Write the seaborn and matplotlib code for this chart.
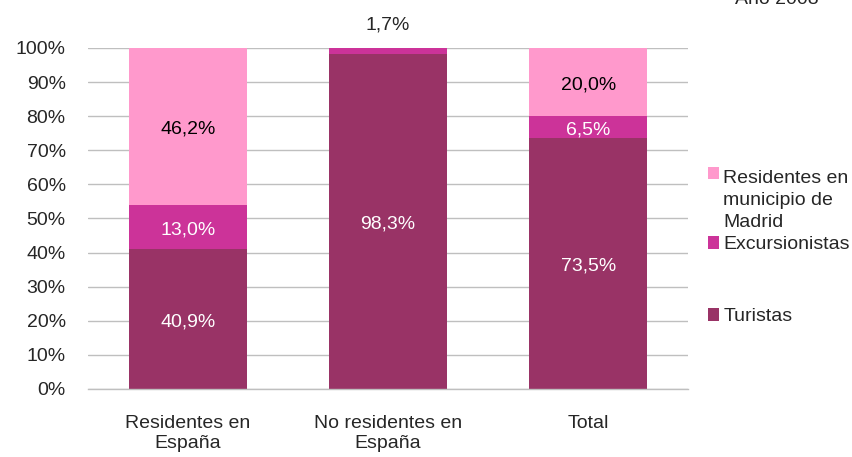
import pandas as pd
import numpy as np
import matplotlib.pyplot as plt
import seaborn as sns

# Data (percentages)
categories = ["Residentes en\nEspaña", "No residentes en\nEspaña", "Total"]
turistas = [40.9, 98.3, 73.5]
excursionistas = [13.0, 1.7, 6.5]
residentes_madrid = [46.2, 0.0, 20.0]

series_names = ["Turistas", "Excursionistas", "Residentes en\nmunicipio de\nMadrid"]
colors = ["#993366", "#CC3399", "#FF99CC"]
text_colors = ["white", "white", "black"]

sns.set_style("white")
plt.rcParams['font.family'] = ['Liberation Sans', 'DejaVu Sans']
FS = 14
plt.rcParams['font.size'] = FS

df = pd.DataFrame({
    "Categoria": categories,
    "Turistas": turistas,
    "Excursionistas": excursionistas,
    "Residentes": residentes_madrid,
})
cols = ["Turistas", "Excursionistas", "Residentes"]
cum = df[cols].cumsum(axis=1)

fig = plt.figure(figsize=(8.53, 4.57), dpi=100)
ax = fig.add_axes([0.103, 0.149, 0.704, 0.746])

# draw stacked bars as layered cumulative bars (top layer first)
for i in reversed(range(len(cols))):
    sns.barplot(x=df["Categoria"], y=cum[cols[i]], color=colors[i], width=0.59,
                saturation=1, ax=ax, label=series_names[i], zorder=2,
                linewidth=0, edgecolor="none")

# segment labels
for j in range(len(categories)):
    bottom = 0
    for i, c in enumerate(cols):
        v = df.loc[j, c]
        txt = f"{v:.1f}%".replace(".", ",")
        if v >= 5:
            ax.annotate(txt, (j, bottom + v / 2), xytext=(0, -2), textcoords="offset points",
                        ha="center", va="center", color=text_colors[i], fontsize=FS, zorder=3)
        elif v > 0:
            ax.annotate(txt, (j, 100), xytext=(0, 16.5),
                        textcoords="offset points", ha="center", va="center", fontsize=FS)
        bottom += v

ax.set_ylim(0, 100)
ax.set_xlim(-0.5, 2.5)
ax.set_yticks(np.arange(0, 101, 10))
ax.set_yticklabels([f"{t}%" for t in range(0, 101, 10)])
ax.yaxis.grid(True, color="#BFBFBF", linewidth=1, zorder=0)
ax.set_axisbelow(True)
ax.set_xlabel("")
ax.set_ylabel("")
for s in ["top", "right", "left"]:
    ax.spines[s].set_visible(False)
ax.spines["bottom"].set_color("#BFBFBF")
ax.spines["bottom"].set_linewidth(1)
ax.tick_params(axis="y", length=0, pad=16)
# category boundary ticks
ax.set_xticks([-0.5, 0.5, 1.5, 2.5], minor=True)
ax.tick_params(axis="x", which="minor", length=6, color="#BFBFBF", width=1)
ax.tick_params(axis="x", which="major", length=0, pad=19)
for lbl in ax.get_xticklabels():
    lbl.set_linespacing(1.2)

# legend: Excel-like spacing (two blocks)
handles, labels = ax.get_legend_handles_labels()
hmap = dict(zip(labels, handles))
kw = dict(frameon=False, handlelength=0.6, handleheight=0.6, handletextpad=0.2,
          borderpad=0, borderaxespad=0, fontsize=FS)
leg1 = ax.legend([hmap[series_names[2]], hmap[series_names[1]]],
                 [series_names[2], series_names[1]], loc="center left",
                 bbox_to_anchor=(1.032, 0.52), labelspacing=0.25, **kw)
t0 = leg1.get_texts()[0]
t0.set_linespacing(1.4)
t0.set_multialignment("left")
# marker aligned with first text line, as in the original
p0 = leg1.get_patches()[0]
p0.set_y(p0.get_y() + 1.4 * FS)
ax.add_artist(leg1)
ax.legend([hmap[series_names[0]]], [series_names[0]], loc="center left",
          bbox_to_anchor=(1.032, 0.211), **kw)

fig.text(735 / 853, 1 - 4 / 457, "Año 2008", ha="left", va="baseline", fontsize=FS)

fig.savefig("out.png", dpi=100)
